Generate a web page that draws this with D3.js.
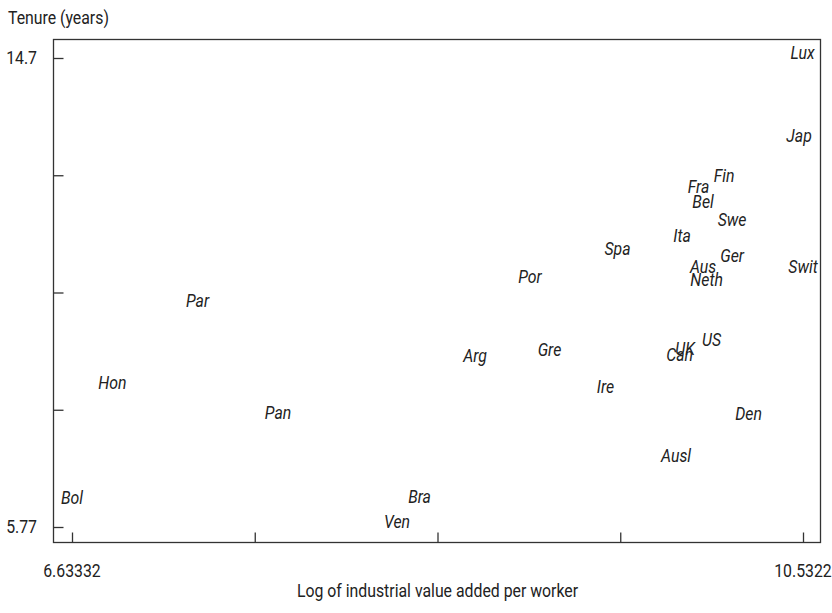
<!DOCTYPE html>
<html>
<head>
<meta charset="utf-8">
<script src="https://cdn.jsdelivr.net/npm/d3@7"></script>
<style>
  body { margin: 0; background: #fff; }
  text { font-family: Roboto, "Open Sans", sans-serif; fill: #222; }
</style>
</head>
<body>
<div id="chart"></div>
<script>
const width = 832
const height = 613
const margin = { top: 40, right: 11, bottom: 70, left: 54 }
const fontSize = 18
const squeeze = 0.88 // reference font is a condensed face

// country codes and their values (log value added per worker, tenure)
const countries = ['Lux', 'Jap', 'Fin', 'Fra', 'Bel', 'Swe', 'Ita', 'Ger', 'Aus', 'Neth', 'Swit',
  'Spa', 'Por', 'Par', 'US', 'UK', 'Can', 'Gre', 'Arg', 'Ire', 'Hon', 'Pan', 'Den', 'Ausl',
  'Bol', 'Bra', 'Ven']
const logValue = [10.53, 10.511, 10.111, 9.975, 9.999, 10.154, 9.887, 10.154, 9.999, 10.018, 10.5322,
  9.543, 9.076, 7.303, 10.044, 9.903, 9.874, 9.180, 8.783, 9.479, 6.849, 7.732, 10.242, 9.855,
  6.63332, 8.487, 8.367]
const tenure = [14.7, 13.13, 12.36, 12.16, 11.87, 11.53, 11.22, 10.85, 10.63, 10.38, 10.63,
  10.98, 10.44, 9.98, 9.24, 9.07, 8.96, 9.05, 8.94, 8.34, 8.43, 7.86, 7.83, 7.04,
  6.24, 6.25, 5.77]

const xMin = 6.63332, xMax = 10.5322
const yMin = 5.77, yMax = 14.7
const xTickLabels = ['6.63332', '10.5322']
const yTickLabels = ['14.7', '5.77']

const svg = d3.select('#chart').append('svg').attr('width', width).attr('height', height)

const plotW = width - margin.left - margin.right
const plotH = height - margin.top - margin.bottom

// plot region has a small inner margin around the data range
const x = d3.scaleLinear().domain([xMin, xMax]).range([margin.left + 18, margin.left + plotW - 18])
const y = d3.scaleLinear().domain([yMin, yMax]).range([margin.top + plotH - 16, margin.top + 18])

const xTicks = d3.range(5).map(i => xMin + i * (xMax - xMin) / 4)
const yTicks = d3.range(5).map(i => yMin + i * (yMax - yMin) / 4)

// place a text with a horizontal squeeze
function place(sel, fx, fy) {
  sel.attr('transform', (d, i) => `translate(${fx(d, i)}, ${fy(d, i)}) scale(${squeeze}, 1)`)
    .attr('font-size', fontSize)
}

svg.append('rect')
  .attr('x', margin.left - 0.5)
  .attr('y', margin.top - 0.5)
  .attr('width', plotW)
  .attr('height', plotH)
  .attr('fill', 'none')
  .attr('stroke', '#333')
  .attr('stroke-width', 1.3)

// ticks point inward
const xAxis = d3.axisTop(x).tickValues(xTicks).tickSize(10).tickFormat('')
const yAxis = d3.axisRight(y).tickValues(yTicks).tickSize(10).tickFormat('')

svg.append('g').attr('transform', `translate(0, ${margin.top + plotH - 0.5})`).call(xAxis)
svg.append('g').attr('transform', `translate(${margin.left - 0.5}, 0)`).call(yAxis)
svg.selectAll('.domain').remove()
svg.selectAll('.tick line').attr('stroke', '#333').attr('stroke-width', 1.3)

svg.append('g').selectAll('text').data([xMin, xMax])
  .join('text')
  .attr('text-anchor', 'middle')
  .call(place, d => x(d), () => 577)
  .text((d, i) => xTickLabels[i])

svg.append('g').selectAll('text').data([yMax, yMin])
  .join('text')
  .attr('dy', '0.35em')
  .attr('text-anchor', 'end')
  .call(place, () => 37, d => y(d))
  .text((d, i) => yTickLabels[i])

svg.append('text')
  .datum(0)
  .call(place, () => 8, () => 24)
  .text('Tenure (years)')

svg.append('text')
  .datum(0)
  .attr('text-anchor', 'middle')
  .call(place, () => margin.left + plotW / 2, () => 597)
  .text('Log of industrial value added per worker')

// labels are the markers
const points = countries.map((c, i) => ({ name: c, lv: logValue[i], t: tenure[i] }))
svg.append('g').attr('class', 'labels')
  .selectAll('text').data(points)
  .join('text')
  .attr('dy', '0.35em')
  .attr('text-anchor', 'middle')
  .attr('font-style', 'italic')
  .call(place, d => x(d.lv), d => y(d.t) - 5)
  .text(d => d.name)
</script>
</body>
</html>
